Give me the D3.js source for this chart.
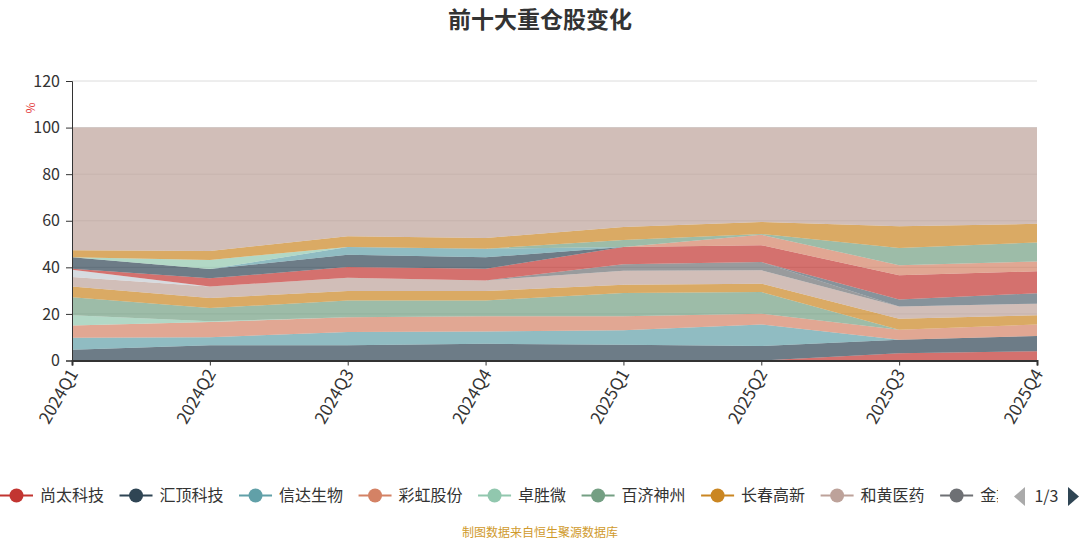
<!doctype html>
<html lang="zh">
<head>
<meta charset="UTF-8">
<title>前十大重仓股变化</title>
<style>
  body { margin: 0; background: #fff; }
  svg { display: block; font-family: "Noto Sans CJK SC", "Noto Sans", sans-serif; }
</style>
</head>
<body>
<svg id="chart"></svg>
<script src="https://cdn.jsdelivr.net/npm/d3@7/dist/d3.min.js"></script>
<script>
const quarters = ["2024Q1", "2024Q2", "2024Q3", "2024Q4", "2025Q1", "2025Q2", "2025Q3", "2025Q4"];

// holding weight (%) per quarter, stacking order bottom to top
const shangtai   = [0, 0, 0, 0, 0, 0, 3.1, 4.0];
const huiding    = [4.6, 6.5, 6.5, 7.2, 6.8, 6.2, 5.8, 6.5];
const xinda      = [5.2, 3.5, 5.7, 5.3, 6.2, 9.3, 0, 0];
const caihong    = [5.2, 6.5, 6.4, 6.5, 6.0, 4.6, 4.3, 5.0];
const zhuoshengwei = [4.4, 0.3, 0, 0, 0, 0, 0, 0];
const baiji      = [7.8, 5.7, 7.2, 6.8, 10.0, 9.3, 0, 0];
const changchun  = [4.6, 4.3, 4.0, 4.0, 3.5, 3.6, 4.7, 3.9];
const hehuang    = [4.0, 5.0, 5.7, 4.6, 6.0, 5.7, 5.3, 5.0];
const jinsirui   = [0, 0, 0, 0, 2.8, 3.6, 0, 0];
const kangfang   = [0, 0, 0, 0, 0, 0, 3.0, 4.5];
const yaoming    = [3.2, 0, 0, 0, 0, 0, 0, 0];
const kelun      = [0.4, 3.5, 4.6, 5.0, 7.4, 7.2, 10.4, 9.4];
const hengrui    = [4.9, 4.0, 5.3, 4.9, 0, 0, 0, 0];
const mairui     = [0, 0, 3.3, 3.7, 0, 0, 0, 0];
const zhifei     = [0, 0, 0, 0, 0, 4.5, 4.3, 4.2];
const rongchang  = [0, 3.9, 0, 0, 0, 0, 0, 0];
const haisike    = [0, 0, 0, 0, 3.0, 0.3, 7.4, 8.2];
const zejing     = [3.0, 3.8, 4.6, 4.6, 5.6, 5.2, 9.3, 8.0];
const others     = [52.7, 53.0, 46.7, 47.4, 42.7, 40.5, 42.4, 41.3];

const seriesNames = ["尚太科技", "汇顶科技", "信达生物", "彩虹股份", "卓胜微", "百济神州", "长春高新", "和黄医药",
  "金斯瑞生物科技", "康方生物", "药明生物", "科伦药业", "恒瑞医药", "迈瑞医疗", "智飞生物", "荣昌生物", "海思科", "泽璟制药", "其他"];
const seriesValues = [shangtai, huiding, xinda, caihong, zhuoshengwei, baiji, changchun, hehuang,
  jinsirui, kangfang, yaoming, kelun, hengrui, mairui, zhifei, rongchang, haisike, zejing, others];
const yTicks = [0, 20, 40, 60, 80, 100, 120];

const palette = ['#c23531', '#2f4554', '#61a0a8', '#d48265', '#91c7ae', '#749f83',
  '#ca8622', '#bda29a', '#6e7074', '#546570', '#c4ccd3'];
const color = i => palette[i % palette.length];

const width = 1080, height = 540;
const svg = d3.select('#chart').attr('width', width).attr('height', height);

const x = d3.scalePoint().domain(quarters).range([72, 1037]);
const y = d3.scaleLinear().domain([0, 120]).range([360.5, 81]);

// rows for d3.stack
const rows = quarters.map((q, i) => {
  const r = { q: q };
  seriesNames.forEach((n, k) => { r[n] = seriesValues[k][i]; });
  return r;
});
const stacked = d3.stack().keys(seriesNames)(rows);

// title
svg.append('text')
   .attr('x', width / 2).attr('y', 27.5)
   .attr('text-anchor', 'middle')
   .style('font-size', '23px').style('font-weight', 'bold').style('fill', '#333')
   .text('前十大重仓股变化');

// grid
svg.append('g')
   .selectAll('line').data(yTicks.slice(1)).enter().append('line')
   .attr('x1', 72).attr('x2', 1037)
   .attr('y1', d => y(d)).attr('y2', d => y(d))
   .style('stroke', '#dcdcdc').style('stroke-width', 1);

// areas
const area = d3.area()
   .x((d, i) => x(quarters[i]))
   .y0(d => y(d[0]))
   .y1(d => y(d[1]));

svg.append('g')
   .selectAll('path').data(stacked).enter().append('path')
   .attr('d', area)
   .style('fill', d => color(d.index))
   .style('fill-opacity', 0.7)
   .style('stroke', 'none');

// y axis
const yAxis = svg.append('g')
   .attr('transform', 'translate(72,0)')
   .call(d3.axisLeft(y).tickValues(yTicks).tickSize(6).tickPadding(6));
yAxis.select('.domain').style('stroke', '#333');
yAxis.selectAll('.tick line').style('stroke', '#333');
yAxis.selectAll('text').style('font-size', '16px').style('fill', '#333')
   .style('font-family', '"Noto Sans CJK SC", sans-serif');

svg.append('text')
   .attr('transform', 'translate(30,108) rotate(90)')
   .attr('text-anchor', 'middle').attr('dy', '0.35em')
   .style('font-size', '12px').style('fill', '#e43c3c')
   .text('%');

// x axis
const xAxis = svg.append('g')
   .attr('transform', 'translate(0,360.5)')
   .call(d3.axisBottom(x).tickSize(5).tickPadding(4));
xAxis.select('.domain').style('stroke', '#333').style('stroke-width', 2);
xAxis.selectAll('.tick line').style('stroke', '#333');
xAxis.selectAll('text')
   .style('font-size', '17px').style('fill', '#333')
   .style('font-family', '"Noto Sans CJK SC", sans-serif')
   .attr('text-anchor', 'end')
   .attr('y', 0).attr('dy', '0.35em')
   .attr('transform', 'translate(1,10) rotate(-60)');

// legend, first page only (the last item is cut by the pager)
const legendNames = seriesNames.slice(0, 9);
const legendRight = 998;
const defs = svg.append('defs');
defs.append('clipPath').attr('id', 'legend-clip')
    .append('rect').attr('x', 0).attr('y', 480).attr('width', legendRight).attr('height', 32);

const legend = svg.append('g').attr('clip-path', 'url(#legend-clip)');
let lx = 0;
legendNames.forEach((n, i) => {
  const g = legend.append('g').attr('transform', 'translate(' + lx + ',495.5)');
  g.append('line').attr('x1', 0).attr('x2', 33).attr('y1', 0).attr('y2', 0)
   .style('stroke', color(i)).style('stroke-width', 2);
  g.append('circle').attr('cx', 16.5).attr('cy', 0).attr('r', 7).style('fill', color(i));
  const t = g.append('text').attr('x', 40).attr('y', 0).attr('dy', '0.36em')
   .style('font-size', '16px').style('fill', '#333').text(n);
  // keep only the characters that reach into the visible area
  let s = n;
  while (s.length > 1 && lx + 40 + t.node().getComputedTextLength() > legendRight + 16) {
    s = s.slice(0, -1);
    t.text(s);
  }
  lx += 40 + t.node().getComputedTextLength() + 15.5;
});

// pager
svg.append('path').attr('d', 'M1025,487 L1014,496.5 L1025,506 Z').style('fill', '#aaa');
svg.append('text').attr('x', 1046.5).attr('y', 496).attr('dy', '0.36em')
   .attr('text-anchor', 'middle').style('font-size', '16px').style('fill', '#333').text('1/3');
svg.append('path').attr('d', 'M1068,487 L1079,496.5 L1068,506 Z').style('fill', '#2f4554');

// source note
svg.append('text')
   .attr('x', width / 2).attr('y', 533).attr('dy', '0.35em')
   .attr('text-anchor', 'middle')
   .style('font-size', '12px').style('fill', '#d09a2c')
   .text('制图数据来自恒生聚源数据库');
</script>
</body>
</html>
